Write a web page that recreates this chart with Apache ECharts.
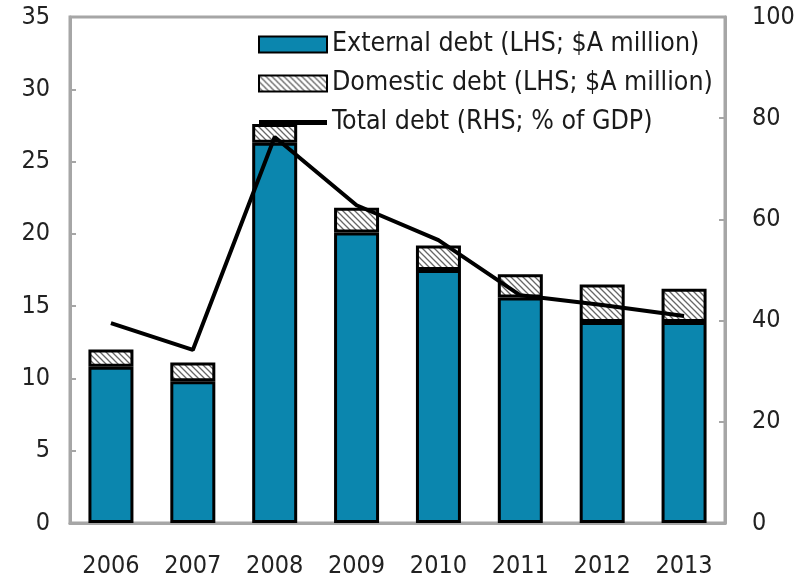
<!DOCTYPE html>
<html>
<head>
<meta charset="utf-8">
<script src="https://cdn.jsdelivr.net/npm/echarts@6/dist/echarts.min.js"></script>
<style>
  html, body { margin: 0; padding: 0; background: #fff; }
  #chart { width: 801px; height: 588px; }
</style>
</head>
<body>
<div id="chart"></div>
<script>
// 数据
var years = ['2006', '2007', '2008', '2009', '2010', '2011', '2012', '2013'];
var externalDebt = [10.8, 9.8, 26.3, 20.1, 17.5, 15.6, 13.9, 13.9];
var domesticDebt = [1.2, 1.3, 1.3, 1.7, 1.7, 1.6, 2.6, 2.3];
var totalDebtGdp = [39.5, 34.2, 76.3, 62.8, 55.9, 45.0, 43.1, 40.9];
var leftTicks = [0, 35, 5];
var rightTicks = [0, 100, 20];

var font = '"DejaVu Sans Condensed", "DejaVu Sans", sans-serif';
var grey = '#a6a6a6';

// 斜线填充
function hatch() {
  var c = document.createElement('canvas');
  c.width = 6; c.height = 6;
  var ctx = c.getContext('2d');
  ctx.fillStyle = '#ffffff';
  ctx.fillRect(0, 0, 6, 6);
  ctx.strokeStyle = '#666666';
  ctx.lineWidth = 1.3;
  ctx.beginPath();
  ctx.moveTo(-1, -1); ctx.lineTo(7, 7);
  ctx.moveTo(-4, 2); ctx.lineTo(4, 10);
  ctx.moveTo(2, -4); ctx.lineTo(10, 4);
  ctx.stroke();
  return { image: c, repeat: 'repeat' };
}

var chart = echarts.init(document.getElementById('chart'));
chart.setOption({
  animation: false,
  grid: {
    left: 70, right: 76, top: 17, bottom: 65,
    show: true, borderColor: grey, borderWidth: 3
  },
  legend: {
    orient: 'vertical',
    left: 258, top: 31, padding: 0,
    itemWidth: 68, itemHeight: 16, itemGap: 12,
    textStyle: { fontFamily: font, fontSize: 26.5, lineHeight: 22, color: '#1a1a1a', padding: [0, 0, 0, 0] },
    data: [
      { name: 'External debt (LHS; $A million)', icon: 'rect' },
      { name: 'Domestic debt (LHS; $A million)', icon: 'rect' },
      { name: 'Total debt (RHS; % of GDP)', icon: 'path://M0,0 L68,0 L68,5 L0,5 Z', itemStyle: { color: '#000', borderWidth: 0 } }
    ]
  },
  xAxis: {
    type: 'category',
    data: years,
    axisLine: { lineStyle: { color: grey, width: 3 } },
    axisTick: { inside: true, length: 6, lineStyle: { color: grey, width: 2 } },
    axisLabel: { interval: 0, fontFamily: font, fontSize: 25, color: '#222', margin: 31 }
  },
  yAxis: [
    {
      type: 'value', min: leftTicks[0], max: leftTicks[1], interval: leftTicks[2],
      splitLine: { show: false },
      axisLine: { show: true, lineStyle: { color: grey, width: 3 } },
      axisTick: { show: true, inside: true, length: 6, lineStyle: { color: grey, width: 2 } },
      axisLabel: { fontFamily: font, fontSize: 25, color: '#222', margin: 20 }
    },
    {
      type: 'value', min: rightTicks[0], max: rightTicks[1], interval: rightTicks[2],
      splitLine: { show: false },
      axisLine: { show: true, lineStyle: { color: grey, width: 3 } },
      axisTick: { show: true, inside: true, length: 6, lineStyle: { color: grey, width: 2 } },
      axisLabel: { fontFamily: font, fontSize: 25, color: '#222', margin: 27 }
    }
  ],
  series: [
    {
      name: 'External debt (LHS; $A million)',
      type: 'bar', stack: 'debt', barWidth: 45,
      data: externalDebt,
      itemStyle: { color: '#0b86ae', borderColor: '#000', borderWidth: 3 }
    },
    {
      name: 'Domestic debt (LHS; $A million)',
      type: 'bar', stack: 'debt', barWidth: 45,
      data: domesticDebt,
      itemStyle: { color: hatch(), borderColor: '#000', borderWidth: 3 }
    },
    {
      name: 'Total debt (RHS; % of GDP)',
      type: 'line', yAxisIndex: 1,
      data: totalDebtGdp,
      symbol: 'none',
      lineStyle: { color: '#000', width: 4 },
      itemStyle: { color: '#000' }
    }
  ]
});
</script>
</body>
</html>
